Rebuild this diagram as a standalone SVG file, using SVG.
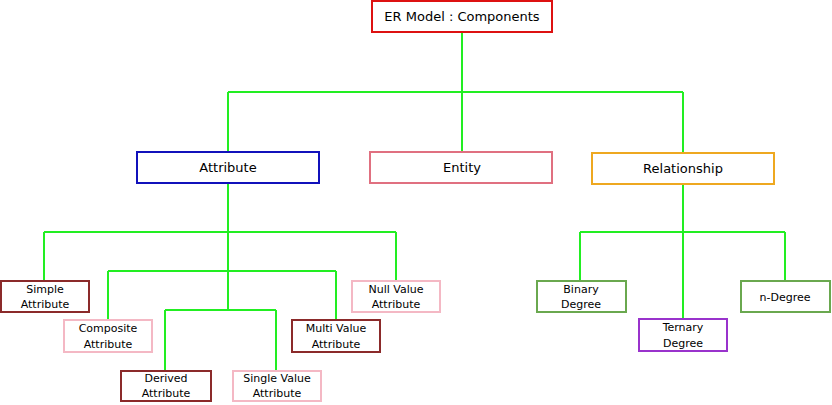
<svg xmlns="http://www.w3.org/2000/svg" width="832" height="405" viewBox="0 0 832 405">
<style>
rect{fill:#fff;stroke-width:2}
text{font-family:"DejaVu Sans",sans-serif;text-anchor:middle;fill:#000}
.b{font-size:13px}.s{font-size:11px}
.c line{stroke:#22ee22;stroke-width:2}
</style>
<rect x="0" y="0" width="832" height="405" style="stroke:none"/>
<g class="c">
<line x1="462" y1="32" x2="462" y2="152"/><line x1="228" y1="92" x2="683" y2="92"/>
<line x1="228" y1="92" x2="228" y2="152"/><line x1="683" y1="92" x2="683" y2="153"/>
<line x1="228" y1="183" x2="228" y2="310"/>
<line x1="44" y1="232" x2="396" y2="232"/><line x1="44" y1="232" x2="44" y2="281"/><line x1="396" y1="232" x2="396" y2="281"/>
<line x1="108" y1="271" x2="336" y2="271"/><line x1="108" y1="271" x2="108" y2="320"/><line x1="336" y1="271" x2="336" y2="320"/>
<line x1="165" y1="310" x2="276" y2="310"/><line x1="165" y1="310" x2="165" y2="371"/><line x1="276" y1="310" x2="276" y2="371"/>
<line x1="683" y1="184" x2="683" y2="319"/><line x1="580" y1="232" x2="785" y2="232"/>
<line x1="580" y1="232" x2="580" y2="281"/><line x1="785" y1="232" x2="785" y2="281"/>
</g>
<g id="er"><rect x="372" y="1" width="180" height="31" stroke="#dd1111"/><text class="b" x="462" y="21">ER Model : Components</text></g>
<g id="attribute"><rect x="137" y="152" width="182" height="31" stroke="#1111bb"/><text class="b" x="228" y="172">Attribute</text></g>
<g id="entity"><rect x="370" y="152" width="182" height="31" stroke="#e07080"/><text class="b" x="462" y="172">Entity</text></g>
<g id="relationship"><rect x="592" y="153" width="182" height="31" stroke="#eea820"/><text class="b" x="683" y="173">Relationship</text></g>
<g id="simple"><rect x="1" y="281" width="88" height="31" stroke="#8b2a2a"/><text class="s" x="45" y="293">Simple</text><text class="s" x="45" y="308">Attribute</text></g>
<g id="null"><rect x="352" y="281" width="88" height="31" stroke="#f4b8c4"/><text class="s" x="396" y="293">Null Value</text><text class="s" x="396" y="308">Attribute</text></g>
<g id="composite"><rect x="64" y="320" width="88" height="32" stroke="#f4b8c4"/><text class="s" x="108" y="332">Composite</text><text class="s" x="108" y="348">Attribute</text></g>
<g id="multi"><rect x="292" y="320" width="88" height="32" stroke="#8b2a2a"/><text class="s" x="336" y="332">Multi Value</text><text class="s" x="336" y="348">Attribute</text></g>
<g id="derived"><rect x="121" y="371" width="90" height="30" stroke="#8b2a2a"/><text class="s" x="166" y="382">Derived</text><text class="s" x="166" y="397">Attribute</text></g>
<g id="single"><rect x="233" y="371" width="88" height="30" stroke="#f4b8c4"/><text class="s" x="277" y="382">Single Value</text><text class="s" x="277" y="397">Attribute</text></g>
<g id="binary"><rect x="537" y="281" width="89" height="31" stroke="#6aa84f"/><text class="s" x="581" y="293">Binary</text><text class="s" x="581" y="308">Degree</text></g>
<g id="ternary"><rect x="639" y="319" width="88" height="32" stroke="#9933cc"/><text class="s" x="683" y="331">Ternary</text><text class="s" x="683" y="347">Degree</text></g>
<g id="ndegree"><rect x="741" y="281" width="89" height="31" stroke="#6aa84f"/><text class="s" x="785" y="301">n-Degree</text></g>
</svg>
